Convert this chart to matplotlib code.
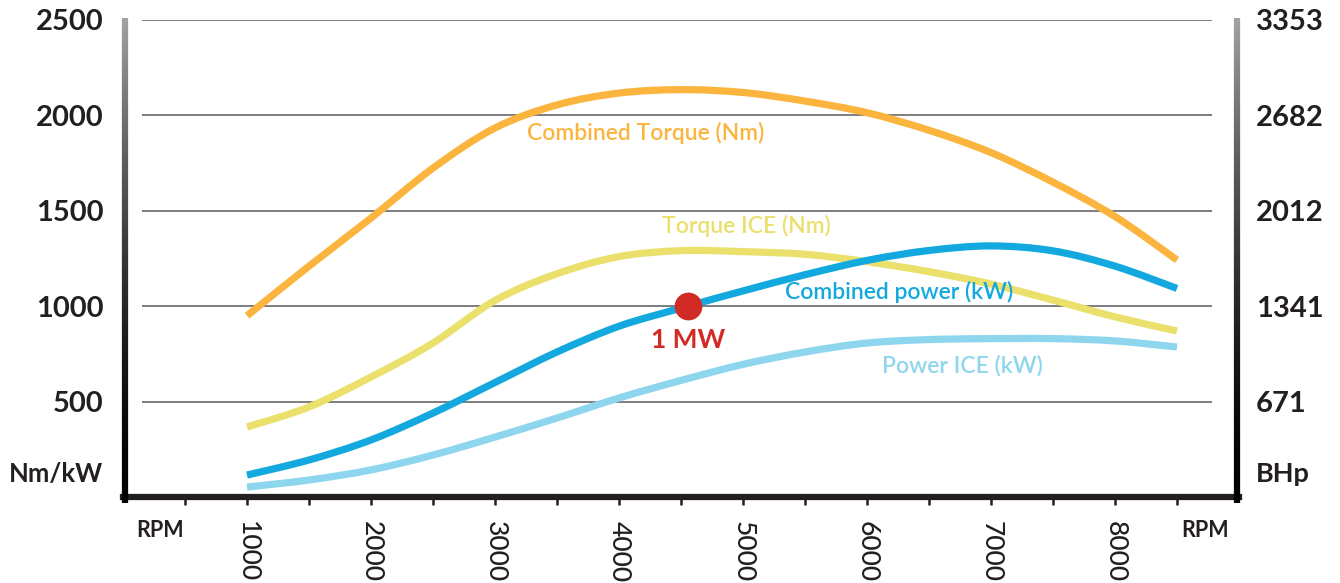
import matplotlib
matplotlib.use("Agg")
import matplotlib.pyplot as plt
import numpy as np
from matplotlib.collections import LineCollection
from matplotlib.path import Path
from matplotlib.patches import PathPatch

plt.rcParams['font.family'] = ['Lato', 'DejaVu Sans']

# engine speed (RPM) and curves
rpm = [1000, 1500, 2000, 2500, 3000, 3500, 4000, 4500,
       5000, 5500, 6000, 6500, 7000, 7500, 8000, 8500]
combined_torque = [950, 1210, 1462, 1724, 1934, 2055, 2117, 2135,
                   2120, 2075, 2014, 1922, 1805, 1650, 1470, 1242]
torque_ice = [367, 472, 629, 807, 1030, 1170, 1260, 1291,
              1286, 1272, 1233, 1181, 1116, 1032, 944, 870]
combined_power = [115, 194, 299, 440, 600, 760, 895, 990,
                  1080, 1165, 1240, 1292, 1316, 1290, 1210, 1093]
power_ice = [52, 89, 142, 220, 314, 414, 519, 611,
             695, 760, 807, 825, 830, 830, 818, 786]

mw_point = (4560, 1000)

left_ticks = [130, 500, 1000, 1500, 2000, 2500]
left_labels = ['Nm/kW', '500', '1000', '1500', '2000', '2500']
right_labels = ['BHp', '671', '1341', '2012', '2682', '3353']
grid_levels = [500, 1000, 1500, 2000, 2500]
major_rpm = [1000, 2000, 3000, 4000, 5000, 6000, 7000, 8000]
minor_rpm = [500, 1500, 2500, 3500, 4500, 5500, 6500, 7500, 8500]

ORANGE = '#FBB53E'
YELLOW = '#EBE06C'
BLUE = '#13A9DF'
LIGHT_BLUE = '#8ED6EE'
RED = '#D22B26'
TEXT = '#231F20'


def smooth_curve(ax, x, y, **kw):
    """Draw a smooth bezier path through the points (Catmull-Rom style)."""
    pts = np.column_stack([x, y]).astype(float)
    ext = np.vstack([pts[0], pts, pts[-1]])
    verts = [pts[0]]
    codes = [Path.MOVETO]
    for i in range(1, len(ext) - 2):
        p0, p1, p2, p3 = ext[i - 1], ext[i], ext[i + 1], ext[i + 2]
        verts += [p1 + (p2 - p0) / 6, p2 - (p3 - p1) / 6, p2]
        codes += [Path.CURVE4] * 3
    patch = PathPatch(Path(verts, codes), fill=False, capstyle='butt', joinstyle='round', **kw)
    ax.add_patch(patch)


W, H = 1340, 583
fig = plt.figure(figsize=(W / 100, H / 100), dpi=100)
ax = fig.add_axes([123 / W, (H - 497) / H, (1239 - 123) / W, (497 - 20) / H])
ax.set_xlim(0, 9000)
ax.set_ylim(0, 2500)

# horizontal guide lines, not touching the axes
ax.hlines(grid_levels, 150, 8780, color='#5a5a5a', lw=1.1, zorder=1)

lw = 5.2
smooth_curve(ax, rpm, combined_torque, edgecolor=ORANGE, lw=lw, zorder=3)
smooth_curve(ax, rpm, torque_ice, edgecolor=YELLOW, lw=lw, zorder=2)
smooth_curve(ax, rpm, power_ice, edgecolor=LIGHT_BLUE, lw=lw, zorder=3)
smooth_curve(ax, rpm, combined_power, edgecolor=BLUE, lw=lw, zorder=4)
ax.plot(*mw_point, 'o', color=RED, ms=20, mec='none', zorder=5)

# curve labels
lab = dict(ha='center', va='center', fontsize=16.5, fontweight='semibold')
ax.text(4215, 1908, 'Combined Torque (Nm)', color=ORANGE, **lab)
ax.text(5025, 1423, 'Torque ICE (Nm)', color=YELLOW, **lab)
ax.text(6263, 1075, 'Combined power (kW)', color=BLUE, **lab)
ax.text(6770, 690, 'Power ICE (kW)', color=LIGHT_BLUE, **lab)
ax.text(mw_point[0], 825, '1 MW', color=RED, ha='center', va='center',
        fontsize=19, fontweight='bold')

# spines: thick black bottom, gradient grey verticals
for s in ['left', 'right', 'top']:
    ax.spines[s].set_visible(False)
ax.spines['bottom'].set_linewidth(4.5)
ax.spines['bottom'].set_color(TEXT)

ys = np.linspace(-0.012, 1.005, 200)
t = (ys - ys.min()) / (ys.max() - ys.min())
greys = np.clip(0.64 * t ** 1.6, 0, 1)
for xpos in [0.002, 0.9985]:
    segs = [[(xpos, ys[i]), (xpos, ys[i + 1])] for i in range(len(ys) - 1)]
    lc = LineCollection(segs, colors=[(g, g, g) for g in greys[:-1]], linewidths=4.5,
                        transform=ax.transAxes, clip_on=False, capstyle='butt', zorder=6)
    ax.add_collection(lc)

# x ticks
ax.set_xticks(major_rpm)
ax.set_xticklabels([str(r) for r in major_rpm], rotation=270, fontsize=19,
                   fontweight='medium', color=TEXT)
ax.set_xticks(minor_rpm, minor=True)
ax.tick_params(axis='x', which='both', length=6, width=1.8, color=TEXT, pad=11, direction='out')
for lbl in ax.get_xticklabels():
    lbl.set_va('top')
for xr in [300, 8730]:
    ax.text(xr, -173, 'RPM', ha='center', va='center', fontsize=15.5, fontweight='bold',
            color=TEXT, clip_on=False)

# y labels on both sides
ax.set_yticks(left_ticks)
ax.set_yticklabels(left_labels, fontsize=21, fontweight='bold', color=TEXT)
ax.get_yticklabels()[0].set_fontsize(18.5)
ax.tick_params(axis='y', length=0, pad=14)

ax2 = ax.twinx()
ax2.set_ylim(0, 2500)
ax2.set_yticks(left_ticks)
ax2.set_yticklabels(right_labels, fontsize=21, fontweight='bold', color=TEXT)
ax2.get_yticklabels()[0].set_fontsize(19.5)
ax2.tick_params(axis='y', length=0, pad=12)
for s in ax2.spines.values():
    s.set_visible(False)

fig.savefig('out.png', dpi=100)
